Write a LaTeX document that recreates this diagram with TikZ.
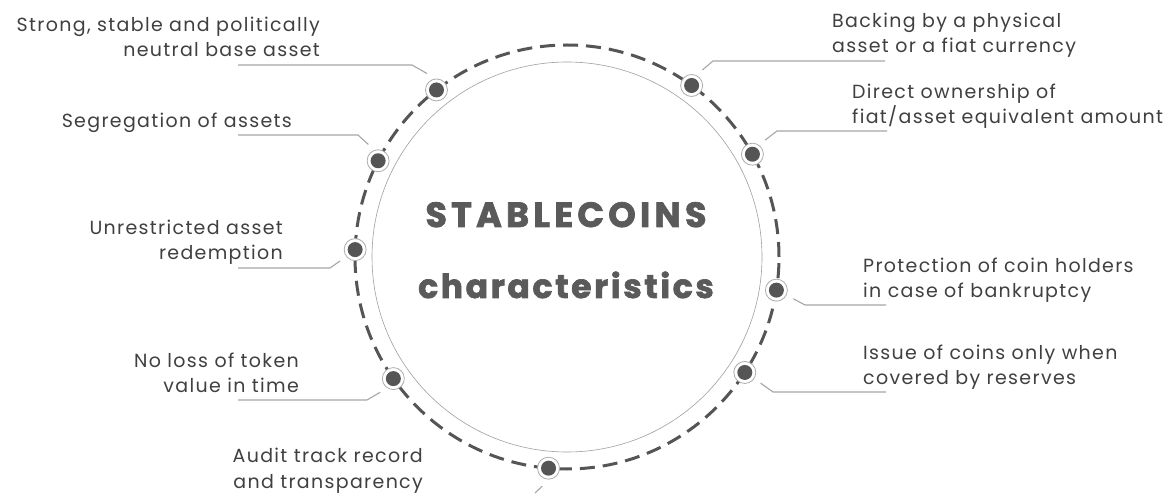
\documentclass[tikz,border=0pt]{standalone}
\usepackage{fontspec}
\setmainfont{Poppins}
\newfontfamily\labelfamily[LetterSpace=7]{Poppins}
\newfontfamily\headfamily[FakeBold=2]{Poppins}
\newcommand{\lblfont}{\labelfamily\fontsize{19}{25.5}\selectfont}
\newcommand{\hdfont}{\headfamily\bfseries\fontsize{33}{38}\selectfont}
\usetikzlibrary{positioning,calc}

\definecolor{txtgray}{HTML}{404040}
\definecolor{dotgray}{HTML}{555555}
\definecolor{linegray}{HTML}{A6A6A6}
\definecolor{headgray}{HTML}{5A5A5A}

\begin{document}
\begin{tikzpicture}[
    x=1pt, y=1pt,
    lbl/.style={font=\lblfont, text=txtgray, inner sep=0pt},
    lbll/.style={lbl, align=right, anchor=base east},
    lblr/.style={lbl, align=left, anchor=base west},
    head/.style={font=\hdfont, text=headgray, inner sep=0pt, anchor=base},
    dot/.style={circle, draw=gray!65, line width=0.8pt, fill=white,
                minimum size=22pt, inner sep=0pt, outer sep=8pt,
                path picture={\fill[dotgray] (path picture bounding box.center) circle (7.5pt);}},
    leader/.style={draw=linegray, line width=1.1pt},
]
\useasboundingbox[fill=white] (0,0) rectangle (1170,493);

% --- Centre: thin circle, dashed ring and title ---
\node[circle, draw=gray!75, line width=0.6pt, minimum size=390pt, inner sep=0pt] (core) at (567,236) {};
\node[circle, draw=dotgray, line width=3pt, dash pattern=on 15pt off 8pt,
      minimum size=424pt, inner sep=0pt, outer sep=0pt] (ring) at (567,236) {};
\node[head] (title)  at (566,266) {\fontsize{35}{40}\selectfont\addfontfeature{LetterSpace=12}STABLECOINS};
\node[head] (title2) at (566,195) {\addfontfeature{LetterSpace=8}characteristics};

% --- Dots on the ring ---
\node[dot] (strong)  at (ring.128) {};
\node[dot] (segreg)  at (ring.153) {};
\node[dot] (redeem)  at (ring.178) {};
\node[dot] (noloss)  at (ring.215) {};
\node[dot] (audit)   at (ring.265) {};
\node[dot] (backing) at (ring.54)  {};
\node[dot] (direct)  at (ring.29)  {};
\node[dot] (protect) at (ring.351) {};
\node[dot] (issue)   at (ring.327) {};

% --- Labels, left side (base = last line) ---
\node[lbll] (strong-t) at (320,436) {Strong, stable and politically\\neutral base asset};
\node[lbll] (segreg-t) at (292,365) {Segregation of assets};
\node[lbll] (redeem-t) at (283,233) {Unrestricted asset\\redemption};
\node[lbll] (noloss-t) at (299,100) {No loss of token\\value in time};
\node[lbll] (audit-t)  at (423,5)   {Audit track record\\and transparency};

% --- Labels, right side ---
\node[lblr] (backing-t) at (832,440) {Backing by a physical\\asset or a fiat currency};
\node[lblr] (direct-t)  at (852,369) {Direct ownership of\\fiat/asset equivalent amount};
\node[lblr] (protect-t) at (863,195) {Protection of coin holders\\in case of bankruptcy};
\node[lblr] (issue-t)   at (863,108) {Issue of coins only when\\covered by reserves};

% --- Leader lines: elbow and free end ---
\coordinate (strong-k) at (412,428);  \coordinate (strong-e) at (238,428);
\coordinate (segreg-k) at (358,358);  \coordinate (segreg-e) at (238,358);
\coordinate (redeem-k) at (330,225);  \coordinate (redeem-e) at (238,225);
\coordinate (noloss-k) at (367,93);   \coordinate (noloss-e) at (238,93);
\coordinate (audit-k)  at (535,0);
\coordinate (backing-k) at (713,432); \coordinate (backing-e) at (885,432);
\coordinate (direct-k)  at (777,362); \coordinate (direct-e)  at (887,362);
\coordinate (protect-k) at (805,188); \coordinate (protect-e) at (886,188);
\coordinate (issue-k)   at (773,101); \coordinate (issue-e)   at (886,101);

\draw[leader] (strong.120) -- (strong-k) -- (strong-e);
\draw[leader] (segreg.121) -- (segreg-k) -- (segreg-e);
\draw[leader] (redeem.217) -- (redeem-k) -- (redeem-e);
\draw[leader] (noloss.226) -- (noloss-k) -- (noloss-e);
\draw[leader] (audit.251)  -- (audit-k);
\draw[leader] (backing.55) -- (backing-k) -- (backing-e);
\draw[leader] (direct.48)  -- (direct-k)  -- (direct-e);
\draw[leader] (protect.333) -- (protect-k) -- (protect-e);
\draw[leader] (issue.326)  -- (issue-k)   -- (issue-e);

\end{tikzpicture}
\end{document}
